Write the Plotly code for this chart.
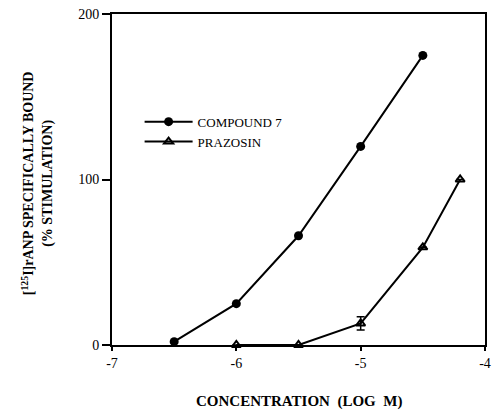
import plotly.graph_objects as go

# Data
conc_compound = [-6.5, -6.0, -5.5, -5.0, -4.5]
bound_compound = [2, 25, 66, 120, 175]

conc_prazosin = [-6.0, -5.5, -5.0, -4.5, -4.2]
bound_prazosin = [0, 0, 13, 59, 100]
err_prazosin = [0, 0, 4, 0, 0]

x_ticks = [-7, -6, -5, -4]
y_ticks = [0, 100, 200]

SERIF = "Liberation Serif"

fig = go.Figure()
fig.add_trace(go.Scatter(
    x=conc_compound, y=bound_compound, name="COMPOUND 7",
    mode="lines+markers",
    line=dict(color="black", width=2),
    marker=dict(symbol="circle", size=9, color="black"),
    cliponaxis=False,
))
fig.add_trace(go.Scatter(
    x=conc_prazosin, y=bound_prazosin, name="PRAZOSIN",
    mode="lines+markers",
    line=dict(color="black", width=2),
    marker=dict(symbol="triangle-up-open", size=8, color="black",
                line=dict(width=2, color="black")),
    error_y=dict(type="data", array=err_prazosin, visible=True,
                 color="black", thickness=1.5, width=4),
    cliponaxis=False,
))

fig.update_layout(
    width=496, height=414,
    margin=dict(l=112, r=5, t=14, b=69),
    paper_bgcolor="white", plot_bgcolor="white",
    font=dict(family=SERIF, color="black", size=13),
    showlegend=True,
    legend=dict(
        x=0.074, y=0.72, xanchor="left", yanchor="top",
        bgcolor="rgba(0,0,0,0)", font=dict(size=13, family=SERIF),
        itemwidth=48, tracegroupgap=0,
    ),
    xaxis=dict(
        range=[-7, -4], tickvals=x_ticks, ticktext=[str(v) for v in x_ticks],
        showgrid=False, zeroline=False, showline=True, linecolor="black",
        linewidth=2, mirror=True, ticks="outside", ticklen=4, tickwidth=1.5,
        tickcolor="black", tickfont=dict(size=14, family=SERIF),
    ),
    yaxis=dict(
        range=[0, 200], tickvals=y_ticks, ticktext=[str(v) for v in y_ticks],
        showgrid=False, zeroline=False, showline=True, linecolor="black",
        linewidth=2, mirror=True, ticks="outside", ticklen=8, tickwidth=1.5,
        tickcolor="black", tickfont=dict(size=14, family=SERIF),
    ),
    annotations=[
        dict(text="<b>[<sup>125</sup>I]rANP SPECIFICALLY BOUND<br>(% STIMULATION)</b>",
             xref="paper", yref="paper", x=-0.2, y=0.49,
             xanchor="center", yanchor="middle", textangle=-90,
             showarrow=False, font=dict(size=14, family=SERIF)),
        dict(text="<b>CONCENTRATION  (LOG  M)</b>",
             xref="paper", yref="paper", x=0.5, y=-0.172,
             xanchor="center", yanchor="middle",
             showarrow=False, font=dict(size=15, family=SERIF)),
    ],
)

fig.write_html("out.html")
